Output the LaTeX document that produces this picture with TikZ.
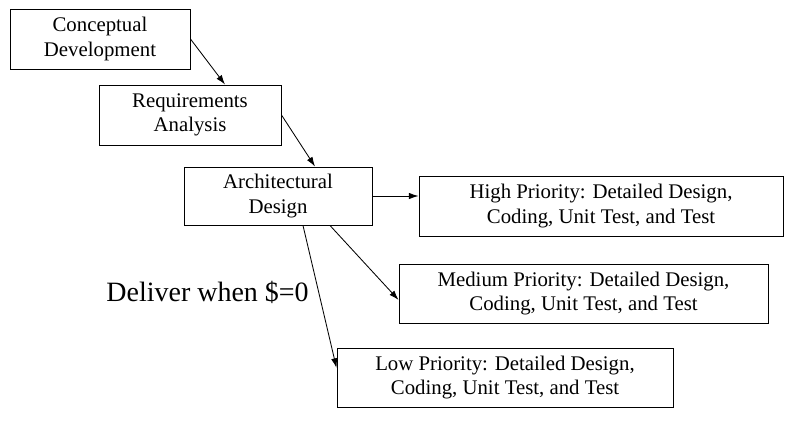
\documentclass[tikz,border=0pt]{standalone}
\usepackage{fontspec}
\setmainfont{Liberation Serif}
\usetikzlibrary{arrows.meta}
\tikzset{
  stagebox/.style={draw, line width=0.7pt, align=center, inner sep=0pt,
    font=\fontsize{14.8}{17.5}\selectfont},
  flow/.style={-{Latex[length=2.4mm,width=1.6mm]}, line width=0.6pt}
}
\begin{document}
\begin{tikzpicture}
  \useasboundingbox (0,0) rectangle (19.95,-10.875);
  \node[stagebox, minimum width=4.5cm, minimum height=1.5cm] (concept) at (2.5,-0.975) {Conceptual\\Development};
  \node[stagebox, minimum width=4.55cm, minimum height=1.5cm] (req) at (4.75,-2.875) {Requirements\\Analysis};
  \node[stagebox, minimum width=4.7cm, minimum height=1.45cm] (arch) at (6.95,-4.9) {Architectural\\Design};
  \node[stagebox, minimum width=9.1cm, minimum height=1.5cm] (high) at (15.025,-5.15) {High Priority: Detailed Design,\\Coding, Unit Test, and Test};
  \node[stagebox, minimum width=9.225cm, minimum height=1.475cm] (med) at (14.5875,-7.3375) {Medium Priority: Detailed Design,\\Coding, Unit Test, and Test};
  \node[stagebox, minimum width=8.4cm, minimum height=1.475cm] (low) at (12.625,-9.4375) {Low Priority: Detailed Design,\\Coding, Unit Test, and Test};
  \node[font=\fontsize{19.9}{23}\selectfont] (deliver) at (5.19,-7.3) {Deliver when \$=0};
  % flow between the stages
  \draw[flow] (concept.east) -- ([xshift=0.875cm]req.north);
  \draw[flow] (req.east) -- ([xshift=0.925cm]arch.north);
  \draw[flow] (arch.east) -- (arch.east -| high.west);
  \draw[flow] ([xshift=1.3cm]arch.south) -- ([yshift=-0.16cm]med.west);
  \draw[flow] ([xshift=0.625cm]arch.south) -- ([yshift=0.24cm]low.west);
\end{tikzpicture}
\end{document}
